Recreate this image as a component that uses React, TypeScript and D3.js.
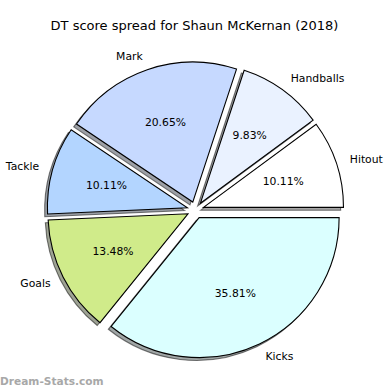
import { useEffect, useRef } from "react";
import * as d3 from "d3";

const TITLE = "DT score spread for Shaun McKernan (2018)";
const LABELS = ["Hitout", "Handballs", "Mark", "Tackle", "Goals", "Kicks"];
const SHARES = [10.11, 9.83, 20.65, 10.11, 13.48, 35.81];
const COLORS = ["#ffffff", "#eaf2ff", "#c6d9ff", "#b3d5ff", "#d0eb8a", "#dbffff"];
const EXPLODE = [0.06, 0.06, 0.06, 0.06, 0.06, 0.06];

const FONT = "DejaVu Sans, sans-serif";

export default function App() {
  const svgRef = useRef<SVGSVGElement>(null);

  useEffect(() => {
    if (!svgRef.current) return;
    const width = 390;
    const height = 390;
    const cx = 195.5;
    const cy = 210;
    const r = 140;

    const svg = d3.select(svgRef.current);
    svg.selectAll("*").remove();

    svg
      .append("rect")
      .attr("width", width)
      .attr("height", height)
      .attr("fill", "white");

    svg
      .append("text")
      .attr("x", 194.5)
      .attr("y", 30)
      .attr("text-anchor", "middle")
      .attr("font-family", FONT)
      .attr("font-size", "13px")
      .attr("fill", "#000")
      .text(TITLE);

    // matplotlib style: start at 3 o'clock, go counterclockwise
    const pie = d3
      .pie<number>()
      .sort(null)
      .startAngle(Math.PI / 2)
      .endAngle(Math.PI / 2 - 2 * Math.PI);
    const arcs = pie(SHARES);

    const arc = d3.arc<d3.PieArcDatum<number>>().innerRadius(0).outerRadius(r);

    const centres = arcs.map((a, i) => {
      const mid = (a.startAngle + a.endAngle) / 2;
      const off = EXPLODE[i] * r;
      return {
        mid,
        x: cx + off * Math.sin(mid),
        y: cy - off * Math.cos(mid),
      };
    });

    // shadows first, under every wedge
    const shadow = 0.02 * r;
    arcs.forEach((a, i) => {
      const c = centres[i];
      const col = d3.rgb(COLORS[i]);
      const dark = d3.rgb(col.r * 0.3, col.g * 0.3, col.b * 0.3);
      svg
        .append("path")
        .attr("transform", `translate(${c.x - shadow},${c.y + shadow})`)
        .attr("d", arc(a)!)
        .attr("fill", dark.toString())
        .attr("fill-opacity", 0.5)
        .attr("stroke", "#000")
        .attr("stroke-opacity", 0.5)
        .attr("stroke-width", 1.1);
    });

    arcs.forEach((a, i) => {
      const c = centres[i];
      svg
        .append("path")
        .attr("transform", `translate(${c.x},${c.y})`)
        .attr("d", arc(a)!)
        .attr("fill", COLORS[i])
        .attr("stroke", "#000")
        .attr("stroke-width", 1.1)
        .attr("stroke-linejoin", "miter");
    });

    arcs.forEach((a, i) => {
      const c = centres[i];
      const lx = c.x + 1.1 * r * Math.sin(c.mid);
      const ly = c.y - 1.1 * r * Math.cos(c.mid);
      svg
        .append("text")
        .attr("x", lx)
        .attr("y", ly)
        .attr("text-anchor", Math.sin(c.mid) > 0 ? "start" : "end")
        .attr("dominant-baseline", "central")
        .attr("font-family", FONT)
        .attr("font-size", "10.8px")
        .attr("fill", "#000")
        .text(LABELS[i]);

      const px = c.x + 0.6 * r * Math.sin(c.mid);
      const py = c.y - 0.6 * r * Math.cos(c.mid);
      svg
        .append("text")
        .attr("x", px)
        .attr("y", py)
        .attr("text-anchor", "middle")
        .attr("dominant-baseline", "central")
        .attr("font-family", FONT)
        .attr("font-size", "10.8px")
        .attr("fill", "#000")
        .text(`${SHARES[i].toFixed(2)}%`);
    });

    svg
      .append("text")
      .attr("x", 0)
      .attr("y", 384.5)
      .attr("font-family", FONT)
      .attr("font-size", "10.6px")
      .attr("font-weight", "bold")
      .attr("fill", "#a8a8a8")
      .text("Dream-Stats.com");
  }, []);

  return (
    <svg
      ref={svgRef}
      width={390}
      height={390}
      style={{ position: "absolute", left: 0, top: 0, display: "block" }}
    />
  );
}
